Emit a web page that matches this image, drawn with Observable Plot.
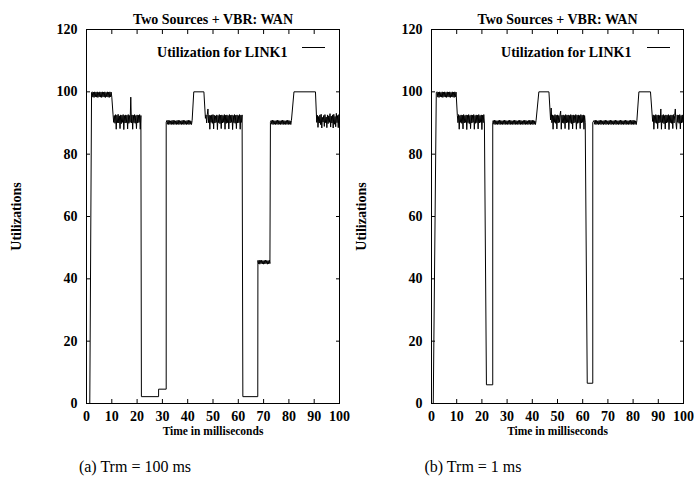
<!DOCTYPE html>
<html>
<head>
<meta charset="utf-8">
<script src="https://cdn.jsdelivr.net/npm/d3@7"></script>
<script src="https://cdn.jsdelivr.net/npm/@observablehq/plot@0.6"></script>
<style>
  html, body { margin: 0; padding: 0; background: white; }
  #wrap { position: relative; width: 694px; height: 487px; font-family: "Liberation Serif", "Times New Roman", serif; color: black; }
  #wrap svg { font-family: "Liberation Serif", "Times New Roman", serif !important; }
  .panel { position: absolute; top: 0; }
  .legline { position: absolute; height: 0; border-top: 1px solid black; }
  .cap { position: absolute; top: 457px; line-height: 20px; font-size: 16px; text-align: center; white-space: nowrap; }
</style>
</head>
<body>
<div id="wrap">
  <div id="pa" class="panel" style="left:0px"></div>
  <div id="pb" class="panel" style="left:345px"></div>
  <div class="legline" style="left:302px; top:47px; width:23px"></div>
  <div class="legline" style="left:647px; top:47px; width:23px"></div>
  <div class="cap" style="left:35px; width:200px">(a) Trm = 100 ms</div>
  <div class="cap" style="left:373px; width:200px">(b) Trm = 1 ms</div>
</div>
<script>
// ---------- tick labels / text ----------
const xTicks = [0, 10, 20, 30, 40, 50, 60, 70, 80, 90, 100];
const yTicks = [0, 20, 40, 60, 80, 100, 120];
const titleText = "Two Sources + VBR: WAN";
const legendText = "Utilization for LINK1";
const xLabel = "Time in milliseconds";
const yLabel = "Utilizations";

// ---------- panel (a) Trm = 100 ms : breakpoints [time ms, utilization %] ----------
const a_start = [[0, 0], [1.3, 0], [2.0, 99.8]];
const a_well1 = [[21.7, 2.2], [28.5, 2.2], [28.5, 4.6], [31.5, 4.6], [31.5, 90.2]];
const a_peak1 = [[42.4, 100], [46.4, 100]];
const a_well2 = [[61.8, 2.2], [67.7, 2.2]];
const a_up2 = [[72.7, 90.2]];
const a_peak2 = [[82, 100], [90.5, 100]];

// panel (a) sampled segments (values read every 0.25 ms)
const a_n1 = [100,98.3,99.9,98.2,100,98.4, 99.9,98.3,100,98.2,99.8,98.4, 100,98.3,99.9,98.2,100,98.4,
  99.9,98.3,100,98.2,99.8,98.4, 100,98.3,99.9,98.2,100,98.4, 99.9,98.3];
const a_n2 = [92.6,90.2,92.4,89.9,92.7,88.0, 92.5,90.1,92.8,90.0,92.3,88.2, 92.6,89.8,92.5,90.2,92.7,87.9,
  92.4,90.0,92.6,90.1,92.5,88.1, 92.7,89.9,92.4,90.2,98.3,90.0, 92.6,88.0,92.5,90.1,92.7,89.9,
  92.4,88.2,92.6,90.0,92.5,90.2, 92.7,88.0,92.4];
const a_f1 = [90.8,89.6,90.9,89.5,90.8,89.6,90.7,89.5,90.8,89.6, 90.9,89.5,90.8,89.6,90.7,89.5,90.8,89.6,90.9,89.5,
  90.8,89.6,90.7,89.5,90.8,89.6,90.9,89.5,90.8,89.6, 90.7,89.5,90.8,89.6,90.9,89.5,90.8,89.6,90.7,89.5, 90.8];
const a_n3 = [91.5,92.6,90.0,92.7,94.5,90.1, 92.5,88.0,92.4,90.2,92.6,89.9, 92.7,88.1,92.5,90.0,92.3,90.2,
  92.6,87.9,92.4,90.1,92.7,89.8, 92.5,88.2,92.6,90.0,92.4,90.2, 92.7,88.0,92.5,89.9,92.6,90.1,
  92.4,88.1,92.7,90.0,92.5,90.2, 92.6,87.9,92.4,90.1,92.7,89.9, 92.5,88.2,92.6,90.0,92.4,90.1,
  92.7,88.0,92.5,90.2,92.6];
const a_n4 = [45.9,44.8,46.0,44.7,45.9,44.9,46.0,44.8,45.8,44.7,45.9,44.8,46.0,44.9,45.9,44.7,45.8,44.8,46.0,44.9];
const a_f2 = [90.8,89.6,90.9,89.5,90.8,89.6,90.7,89.5,90.8,89.6, 90.9,89.5,90.8,89.6,90.7,89.5,90.8,89.6,90.9,89.5,
  90.8,89.6,90.7,89.5,90.8,89.6,90.9,89.5,90.8,89.6, 90.7,89.5,90.8];
const a_n5 = [90.2,92.5,88.6,92.1,90.0,92.6, 89.5,92.8,88.4,91.8,90.3,92.4, 88.9,92.7,90.1,91.9,88.5,92.6,
  89.8,92.3,90.2,93.0,88.7,92.2, 90.0,92.6,88.4,92.8,89.6,92.1, 88.8,93.1,90.1,92.4,88.5,92.7, 89.0];

// ---------- panel (b) Trm = 1 ms : breakpoints ----------
const b_start = [[0, 0], [0.7, 0], [1.9, 99.8]];
const b_well1 = [[21.8, 6.0], [24.3, 6.0], [24.3, 90.2]];
const b_peak1 = [[42.6, 100], [46.6, 100]];
const b_well2 = [[61.8, 6.5], [64.0, 6.5], [64.0, 90.2]];
const b_peak2 = [[82.3, 100], [86.9, 100]];

// panel (b) sampled segments (every 0.25 ms)
const b_n1 = [100,98.3,99.9,98.2,100,98.4, 99.8,98.3,100,98.2,99.9,98.4, 100,98.3,99.8,98.2,100,98.4,
  99.9,98.3,100,98.2,99.8,98.4, 100,98.3,99.9,98.2,100,98.4, 99.9];
const b_n2 = [92.5,90.1,92.7,88.0,92.4,90.2, 92.6,89.9,92.5,88.1,92.7,90.0, 92.4,90.2,92.6,87.9,92.5,90.1,
  92.7,89.8,92.4,88.2,92.6,90.0, 92.5,90.2,92.7,88.0,92.4,89.9, 92.6,90.1,92.5,88.1,92.7,90.0,
  92.4,90.2,92.6,87.9,92.5,90.1, 92.7,90.0];
const b_f1 = [90.8,89.6,90.9,89.5,90.8,89.6,90.7,89.5,90.8,89.6, 90.9,89.5,90.8,89.6,90.7,89.5,90.8,89.6,90.9,89.5,
  90.8,89.6,90.7,89.5,90.8,89.6,90.9,89.5,90.8,89.6, 90.7,89.5,90.8,89.6,90.9,89.5,90.8,89.6,90.7,89.5,
  90.8,89.6,90.9,89.5,90.8,89.6,90.7,89.5,90.8,89.6, 90.9,89.5,90.8,89.6,90.7,89.5,90.8,89.6,90.9,89.5,
  90.8,89.6,90.9,89.5,90.8,89.6,90.7,89.5,90.8];
const b_n3 = [91.0,94.8,90.1,92.6,88.0,92.4, 90.2,92.7,89.9,92.5,88.1,92.6, 90.0,92.4,90.2,92.7,93.8,88.0,
  92.5,90.1,92.6,89.9,92.4,88.2, 92.7,90.0,92.5,90.2,92.6,87.9, 92.4,90.1,92.7,89.8,92.5,88.1,
  92.6,90.0,92.4,90.2,92.7,88.0, 92.5,89.9,92.6,90.1,92.4,88.2, 92.7,90.0,92.5,90.2,92.6,88.0, 92.4,90.1];
const b_f2 = [90.8,89.6,90.9,89.5,90.8,89.6,90.7,89.5,90.8,89.6, 90.9,89.5,90.8,89.6,90.7,89.5,90.8,89.6,90.9,89.5,
  90.8,89.6,90.7,89.5,90.8,89.6,90.9,89.5,90.8,89.6, 90.7,89.5,90.8,89.6,90.9,89.5,90.8,89.6,90.7,89.5,
  90.8,89.6,90.9,89.5,90.8,89.6,90.7,89.5,90.8,89.6, 90.9,89.5,90.8,89.6,90.7,89.5,90.8,89.6,90.9,89.5,
  90.8,89.6,90.9,89.5,90.8,89.6,90.7,89.5,90.8];
const b_n4 = [90.5,92.6,88.0,92.4,90.1,92.7, 89.9,92.5,88.2,92.6,90.0,92.4, 90.2,94.5,88.0,92.5,90.1,92.7,
  89.8,92.4,88.1,92.6,90.0,92.5, 90.2,92.7,87.9,92.4,90.1,92.6, 89.9,92.5,88.2,92.7,90.0,92.4,
  94.5,90.1,88.0,92.6,90.2,92.5, 89.9,92.7,88.1,92.4,90.0,92.6, 90.2,92.5];

// ---------- assemble series ----------
function build(segs) {
  const out = [];
  for (const s of segs) {
    if (s.pts) for (const [t, u] of s.pts) out.push({t, u});
    else s.vals.forEach((u, i) => out.push({t: s.start + i * s.step, u}));
  }
  return out;
}
const seriesA = build([
  {pts: a_start},
  {start: 2.25, step: 0.25, vals: a_n1},
  {start: 10.5, step: 0.25, vals: a_n2},
  {pts: a_well1},
  {start: 31.75, step: 0.25, vals: a_f1},
  {pts: a_peak1},
  {start: 47.0, step: 0.25, vals: a_n3},
  {pts: a_well2},
  {start: 67.75, step: 0.25, vals: a_n4},
  {pts: a_up2},
  {start: 73.0, step: 0.25, vals: a_f2},
  {pts: a_peak2},
  {start: 91.0, step: 0.25, vals: a_n5}
]);
const seriesB = build([
  {pts: b_start},
  {start: 2.25, step: 0.25, vals: b_n1},
  {start: 10.25, step: 0.25, vals: b_n2},
  {pts: b_well1},
  {start: 24.5, step: 0.25, vals: b_f1},
  {pts: b_peak1},
  {start: 47.25, step: 0.25, vals: b_n3},
  {pts: b_well2},
  {start: 64.5, step: 0.25, vals: b_f2},
  {pts: b_peak2},
  {start: 87.75, step: 0.25, vals: b_n4}
]);

function panel(data, width, marginLeft, marginRight) {
  return Plot.plot({
    width, height: 450,
    marginLeft, marginRight, marginTop: 29, marginBottom: 47,
    style: {fontFamily: "'Liberation Serif', 'Times New Roman', serif", fontSize: "14px", fontWeight: "bold", color: "black", overflow: "visible", background: "none"},
    x: {domain: [0, 100]},
    y: {domain: [0, 120]},
    marks: [
      Plot.axisX(xTicks, {anchor: "bottom", tickSize: -4, tickPadding: 12, label: null}),
      Plot.axisX(xTicks, {anchor: "top", tickSize: -4, tickFormat: () => "", label: null}),
      Plot.axisY(yTicks, {anchor: "left", tickSize: -4, tickPadding: 13, label: yLabel, labelAnchor: "center", labelArrow: "none", labelOffset: 75}),
      Plot.axisY(yTicks, {anchor: "right", tickSize: -4, tickFormat: () => "", label: null}),
      Plot.line(data, {x: "t", y: "u", stroke: "black", strokeWidth: 1}),
      Plot.frame({stroke: "black", strokeWidth: 1}),
      Plot.text([titleText], {frameAnchor: "top", dy: -15, fontSize: 14, fontWeight: "bold"}),
      Plot.text([xLabel], {frameAnchor: "bottom", dy: 31, fontSize: 11.5, fontWeight: "bold"}),
      Plot.text([legendText], {frameAnchor: "top-right", dx: -52, dy: 18, textAnchor: "end", fontSize: 14, fontWeight: "bold"})
    ]
  });
}

document.getElementById("pa").appendChild(panel(seriesA, 345, 86, 6));
document.getElementById("pb").appendChild(panel(seriesB, 349, 86, 11));
</script>
</body>
</html>
